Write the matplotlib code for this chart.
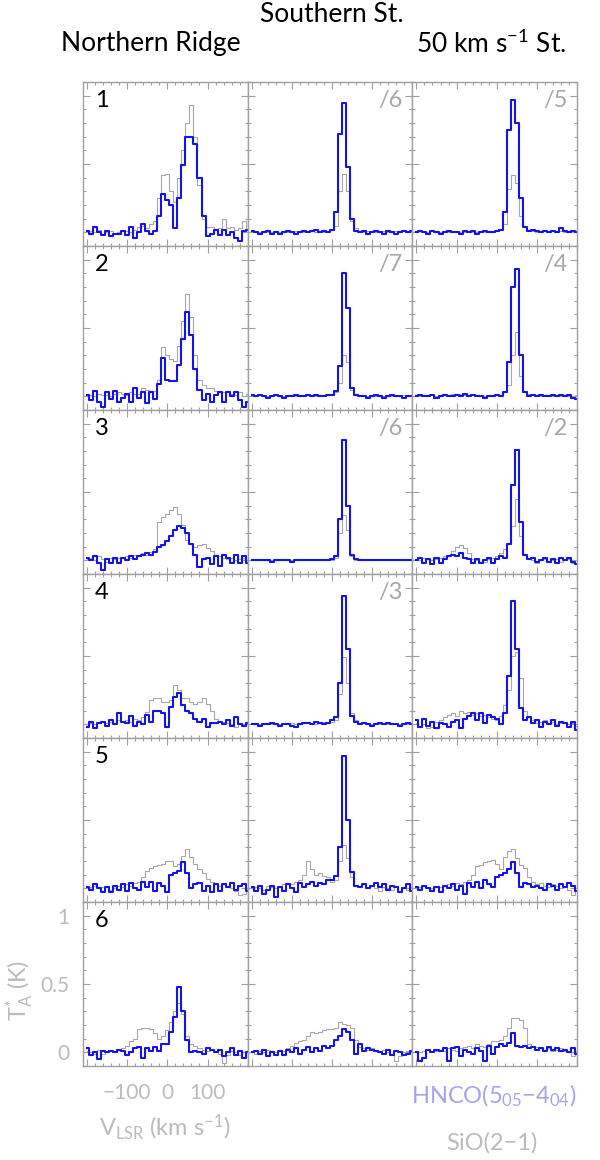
import numpy as np
import matplotlib
matplotlib.use('Agg')
import matplotlib.pyplot as plt
from matplotlib.ticker import MultipleLocator, FuncFormatter

plt.rcParams['font.family'] = ['Lato', 'DejaVu Sans']
plt.rcParams['mathtext.fontset'] = 'custom'
plt.rcParams['mathtext.rm'] = 'Lato'
plt.rcParams['mathtext.it'] = 'Lato'
plt.rcParams['mathtext.default'] = 'regular'

# velocity channels (km/s), 10 km/s wide
vel = np.arange(-200, 201, 10)

# T_A* spectra, in units of 0.01 K (rows 1-6, columns a/b/c)
hnco_1a = [1, -1, 4, 0, -2, 1, -3, -1, -1, 1, -2, 4, -4, 0, 6, 1, -1, 1, 12, 28, 24, 20, 3, 25, 49,
           70, 70, 65, 40, 12, -3, -1, 2, -2, 2, -2, 0, -4, -6, 1, 2]
sio_1a = [0, 1, 0, 2, -1, 0, 1, -1, 0, 2, 1, 0, 2, 4, 5, 3, 6, 8, 25, 42, 43, 30, 22, 40, 60,
          80, 93, 70, 35, 10, 4, 4, 2, 3, 10, 3, 4, 2, 3, 8, 2]
hnco_1b = [1, 0, -1, 0, 1, -1, 0, -1, 0, 1, 0, -1, 0, 1, 0, 1, 2, 0, 1, 0, 2, 15, 72, 95, 48,
           10, 1, 0, 1, -1, 0, 1, 0, -1, 1, 0, -1, 0, 1, 0, 1]
sio_1b = [1, 1, 0, 1, 0, 0, 1, 0, 1, 0, 0, 1, 0, 0, 1, 1, 0, 1, 0, 1, 2, 5, 30, 43, 30,
          8, 3, 1, 0, 1, 1, 0, 0, 1, 0, 0, 1, 0, 1, 0, 1]
hnco_1c = [0, 1, 0, -1, 1, 0, -1, 0, 1, 0, 0, -1, 1, 0, 1, -1, 0, 1, 0, 0, 1, 2, 15, 75, 97,
           80, 25, 4, 1, 2, 1, 0, 1, 0, 1, 0, 3, 1, 0, 1, 0]
sio_1c = [0, 1, 0, 0, 1, 0, 0, 1, 0, 0, 1, 0, 0, 1, 0, 0, 1, 0, 1, 0, 1, 2, 6, 32, 42,
          36, 12, 4, 2, 1, 0, 1, 1, 0, 1, 0, 1, 0, 1, 0, 1]

hnco_2a = [1, -3, 4, -4, -8, 3, -2, 4, -4, -1, 2, -4, 6, -1, 3, -5, 3, -2, 9, 28, 12, 11, 11, 23, 42,
           62, 45, 20, 5, -3, 2, -4, 1, 3, -4, 3, 0, 3, -3, -8, -4]
sio_2a = [2, 1, 0, 2, 1, 1, 0, 2, 3, 2, 1, 3, 2, 2, 6, 5, 3, 4, 12, 36, 30, 27, 26, 37, 55,
          75, 58, 30, 12, 8, 6, 6, 4, 3, 3, 4, 2, 1, 3, 0, 2]
hnco_2b = [1, 0, 1, 0, -1, 0, 1, 0, -1, 0, 0, 1, 0, 0, 1, 0, 1, 0, 0, 1, 1, 4, 22, 90, 65,
           6, 1, 0, 0, -1, 0, 1, 0, -1, 0, 1, 0, 0, -1, 0, 0]
sio_2b = [0, 0, 1, 0, 0, 0, 1, 0, 0, 0, 1, 0, 0, 0, 1, 0, 0, 1, 0, 1, 1, 3, 10, 30, 25,
          5, 1, 0, 0, 0, 1, 0, 0, 0, 1, 0, 0, 0, 1, 0, 0]
hnco_2c = [0, 1, 0, 0, 1, -1, 0, 1, 0, 0, 1, 0, 2, 0, 1, 0, 0, -1, 0, 0, 1, 0, 3, 25, 80,
           93, 30, 3, 0, 1, 0, 1, 0, 0, 1, 0, 1, 0, 1, -1, -2]
sio_2c = [1, 0, 1, 0, 1, 0, 0, 1, 1, 2, 1, 2, 1, 1, 2, 1, 0, 0, 1, 0, 1, 1, 3, 8, 30,
          47, 15, 4, 2, 1, 1, 0, 1, 0, 0, 1, 0, 1, 0, 0, 1]

hnco_3a = [2, 0, 3, -2, -7, 1, -2, 2, -2, 2, 0, 3, 1, 3, 4, 5, 4, 6, 10, 11, 14, 18, 22, 25, 24,
           20, 12, 4, -5, 1, 2, -3, 3, -4, 4, 2, -2, 4, -2, 3, -2]
sio_3a = [1, 2, 0, 3, 1, -1, 2, 1, 2, 2, 3, 2, 4, 3, 5, 4, 6, 8, 28, 32, 34, 37, 39, 34, 26,
          15, 12, 10, 11, 12, 9, 7, 4, 3, 2, 1, 2, 0, 1, 2, 0]
hnco_3b = [0, 0, 0, 0, 0, -1, 0, 0, 0, 0, -1, 0, 0, 0, 0, 0, 0, 0, 0, 0, 1, 3, 30, 88, 40,
           4, 1, 0, 0, 0, 0, 0, 0, 0, 0, 0, 0, 0, 0, 0, 0]
sio_3b = [0, 0, 0, 0, 0, 0, 0, 0, 0, 0, 0, 0, 0, 0, 0, 0, 0, 0, 0, 0, 0, 2, 20, 33, 22,
          3, 0, 0, 0, 0, 0, 0, 0, 0, 0, 0, 0, 0, 0, 0, 0]
hnco_3c = [0, 2, -2, 1, -3, 2, -2, 1, 3, 4, 3, 5, 2, 1, -2, 1, -2, 0, 2, -2, 1, 3, 2, 12, 55,
           81, 28, 4, 1, 2, -1, 0, 2, -1, 1, -2, 2, 0, 2, -1, -3]
sio_3c = [1, 0, 2, 1, 0, 1, 2, 3, 4, 7, 10, 11, 9, 5, 1, 0, -2, -1, 1, 2, 3, 5, 8, 12, 25,
          45, 18, 4, 1, 0, -2, 0, 1, -1, 0, 1, -1, 0, 1, -2, 0]

hnco_4a = [-2, 2, -3, 1, 2, -1, 3, 0, 8, 2, 1, 6, -1, 2, 0, 7, 2, 10, 10, 8, -2, 13, 20, 23, 14,
           10, 8, 4, 2, 4, -2, 1, 1, 2, 0, 3, -1, 5, 0, -1, 1]
sio_4a = [0, 1, 0, 1, 2, 1, 2, 1, 3, 2, 3, 2, 4, 3, 5, 9, 18, 19, 19, 16, 16, 18, 29, 25, 19,
          19, 16, 15, 16, 19, 15, 10, 4, 2, 2, 1, 0, -2, 1, 0, 1]
hnco_4b = [0, 0, -1, 0, 0, 1, 0, -1, 0, 0, -1, -2, 0, 1, 1, 0, 2, 1, 0, 1, 3, 5, 30, 94, 55,
           6, 2, 0, 1, 0, -1, 0, 1, 0, 1, 0, 0, -1, 0, 1, 0]
sio_4b = [0, 1, 0, 0, 1, 0, 0, 0, 1, 0, 1, 0, 0, 1, 2, 1, 0, 1, 2, 1, 2, 3, 22, 49, 30,
          8, 3, 1, 2, 1, 0, 1, 0, 1, 0, 0, 1, 0, 1, 0, 0]
hnco_4c = [3, -2, 4, -1, 2, -3, 1, 0, -2, 2, 3, -3, 4, 6, 8, 3, 8, 1, 7, 5, 4, 0, 8, 35, 90,
           55, 12, 3, 5, 1, 3, -2, 2, 0, 3, -1, 2, 1, -2, 2, -4]
sio_4c = [1, -1, 0, -3, -2, 2, 3, 5, 7, 8, 6, 10, 8, 9, 7, 8, 6, 7, 5, 4, 3, 6, 14, 25, 50,
          53, 34, 10, 5, 3, 1, 2, 3, 1, 2, 0, 1, 2, 0, 1, -1]

hnco_5a = [1, -1, 3, 0, -3, 1, -3, 2, -1, 3, -2, 4, 0, -1, 5, 1, 5, -2, 4, 2, -3, 10, 11, 13, 19,
           11, 0, 3, 4, -2, 2, -3, 3, -2, 3, 1, 4, -1, 2, 3, -2]
sio_5a = [0, 1, 2, 0, 1, 2, -1, 0, 2, 1, 3, 2, 4, 5, 8, 13, 15, 16, 17, 18, 20, 20, 16, 18, 24,
          29, 23, 18, 14, 11, 7, 5, 3, 2, 3, 1, 0, -2, -5, -4, -1]
hnco_5b = [1, -2, 2, -4, -1, 2, -6, 1, -2, 3, 0, -3, 4, 1, 3, 5, 2, 4, 3, 6, 6, 9, 30, 97, 50,
           12, 2, 1, 3, 0, 2, 4, 1, 3, -1, 2, 1, -3, 0, 3, -2]
sio_5b = [0, 1, 0, -1, 2, 1, 0, 2, 3, 4, 3, 5, 6, 10, 20, 14, 10, 11, 9, 8, 5, 6, 20, 32, 22,
          8, 2, 2, 3, 1, 2, 0, -2, 1, 0, -1, 2, -3, 0, -1, 1]
hnco_5c = [1, -1, 2, 0, -2, 1, -3, 2, 0, 3, -1, 2, -4, 4, 1, 5, 0, 6, 3, 1, 8, 10, 11, 14, 19,
           11, 1, 4, 3, 1, 2, 0, -1, 3, 2, -1, 3, 1, 4, 2, -2]
sio_5c = [0, 1, 2, 1, 0, 2, 1, 2, 3, 2, 4, 3, 5, 6, 10, 16, 17, 19, 20, 21, 18, 14, 23, 27, 29,
          22, 17, 15, 8, 5, 3, 4, 2, 1, 3, 2, 0, 1, -1, -5, -2]

hnco_6a = [3, -2, 0, -5, 1, 0, 1, 0, 2, 1, -2, 0, 3, 4, -4, 3, 1, 4, 1, 6, 6, 15, 26, 48, 30,
           9, 0, 1, 0, -1, 3, 2, 0, 2, -3, 0, 3, -2, 1, -4, 0]
sio_6a = [1, 0, -1, 2, -1, 0, 1, 0, 2, 3, 5, 8, 10, 17, 18, 18, 17, 14, 10, 12, 16, 22, 30, 36, 28,
          12, 6, 5, 3, 2, 1, 2, 1, -1, -8, -2, 1, 0, -2, 0, 1]
hnco_6b = [0, 1, -1, 2, -3, 0, -2, 1, -2, 2, 0, 3, -1, 2, 4, 0, 3, 1, 5, 3, 5, 9, 12, 17, 15,
           9, -1, 6, 1, 3, 2, 1, 0, -1, 2, -2, 1, 0, -2, -1, 1]
sio_6b = [0, -1, 1, 0, 2, 1, 0, 2, 1, 3, 5, 7, 8, 9, 12, 15, 14, 15, 16, 17, 17, 18, 22, 21, 20,
          18, 9, 4, 3, 2, 3, 1, 0, 2, 0, -2, -6, -3, 0, 1, 0]
hnco_6c = [0, -6, -4, 2, 0, 2, 1, 3, -6, 3, 4, -3, 2, 0, -1, 3, 1, -6, 5, -1, 4, 6, 5, 7, 14,
           5, 4, 5, 3, 4, 2, 3, 1, 4, 2, 3, 1, 2, 0, 3, -1]
sio_6c = [1, 0, 1, 2, 0, 1, 2, 1, 3, 2, 1, 3, 4, 5, 3, 6, 5, 4, 6, 8, 8, 9, 12, 18, 25,
          25, 24, 18, 6, 5, 4, 3, 2, 3, 1, 2, 3, 1, 0, -3, 1]

hnco_rows = [[hnco_1a, hnco_1b, hnco_1c], [hnco_2a, hnco_2b, hnco_2c], [hnco_3a, hnco_3b, hnco_3c],
             [hnco_4a, hnco_4b, hnco_4c], [hnco_5a, hnco_5b, hnco_5c], [hnco_6a, hnco_6b, hnco_6c]]
sio_rows = [[sio_1a, sio_1b, sio_1c], [sio_2a, sio_2b, sio_2c], [sio_3a, sio_3b, sio_3c],
            [sio_4a, sio_4b, sio_4c], [sio_5a, sio_5b, sio_5c], [sio_6a, sio_6b, sio_6c]]

row_labels = ['1', '2', '3', '4', '5', '6']
scale_labels = [['', '/6', '/5'], ['', '/7', '/4'], ['', '/6', '/2'],
                ['', '/3', ''], ['', '', ''], ['', '', '']]

W, H = 600, 1160
fig = plt.figure(figsize=(W / 100, H / 100), dpi=100)

def rect(x0, y0, w, h):
    return [x0 / W, 1 - (y0 + h) / H, w / W, h / H]

frame_col = '#a0a0a0'
blue = '#1414e6'
grey = '#a8a8a8'
light = '#bcbcbc'

left, top, cw, rh = 83, 82, 164.7, 164
for r in range(6):
    for c in range(3):
        ax = fig.add_axes(rect(left + c * cw, top + r * rh, cw, rh))
        ax.plot(vel, np.array(sio_rows[r][c]) / 100, drawstyle='steps-mid', color=grey, lw=0.8)
        ax.plot(vel, np.array(hnco_rows[r][c]) / 100, drawstyle='steps-mid', color=blue, lw=1.5)
        ax.set_xlim(-210, 200)
        ax.set_ylim(-0.1, 1.1)
        ax.xaxis.set_major_locator(MultipleLocator(100))
        ax.xaxis.set_minor_locator(MultipleLocator(20))
        ax.yaxis.set_major_locator(MultipleLocator(0.5))
        ax.yaxis.set_minor_locator(MultipleLocator(0.1))
        ax.tick_params(which='both', direction='in', top=True, right=True,
                       color=frame_col, width=0.8, labelcolor=light, labelsize=15)
        ax.tick_params(which='major', length=5)
        ax.tick_params(which='minor', length=2.5)
        for s in ax.spines.values():
            s.set_color(frame_col)
            s.set_linewidth(1)
        if r == 5 and c == 0:
            ax.xaxis.set_major_formatter(FuncFormatter(
                lambda v, p: '' if abs(v) > 150 else f'{v:g}'.replace('-', '\u2212')))
            ax.yaxis.set_major_formatter(FuncFormatter(lambda v, p: f'{v:g}'))
            ax.tick_params(axis='x', pad=12)
            ax.tick_params(axis='y', pad=10)
        else:
            ax.tick_params(labelbottom=False, labelleft=False)
        if c == 0:
            ax.text(0.07, 0.89, row_labels[r], transform=ax.transAxes, fontsize=17,
                    color='black', ha='left', va='center')
        if scale_labels[r][c]:
            ax.text(0.94, 0.89, scale_labels[r][c], transform=ax.transAxes, fontsize=17,
                    color=grey, ha='right', va='center')

# column titles
fig.text(332 / W, 1 - 15 / H, 'Southern St.', fontsize=19, ha='center', va='center')
fig.text(151 / W, 1 - 44 / H, 'Northern Ridge', fontsize=19, ha='center', va='center')
fig.text(491 / W, 1 - 44 / H, r'50 km s$^{-1}$ St.', fontsize=19, ha='center', va='center')

# axis labels
fig.text(20 / W, 1 - 990 / H, r'T$_{A}^{*}$ (K)', fontsize=17, color=light,
         rotation=90, ha='center', va='center')
fig.text(165 / W, 1 - 1127 / H, r'V$_{LSR}$ (km s$^{-1}$)', fontsize=17, color=light,
         ha='center', va='center')

# legend
fig.text(494 / W, 1 - 1096 / H, 'HNCO(5$_{05}$\u22124$_{04}$)', fontsize=17, color='#a4a4f0',
         ha='center', va='center')
fig.text(492 / W, 1 - 1143 / H, 'SiO(2\u22121)', fontsize=17, color=light,
         ha='center', va='center')

fig.savefig('out.png', dpi=100)
